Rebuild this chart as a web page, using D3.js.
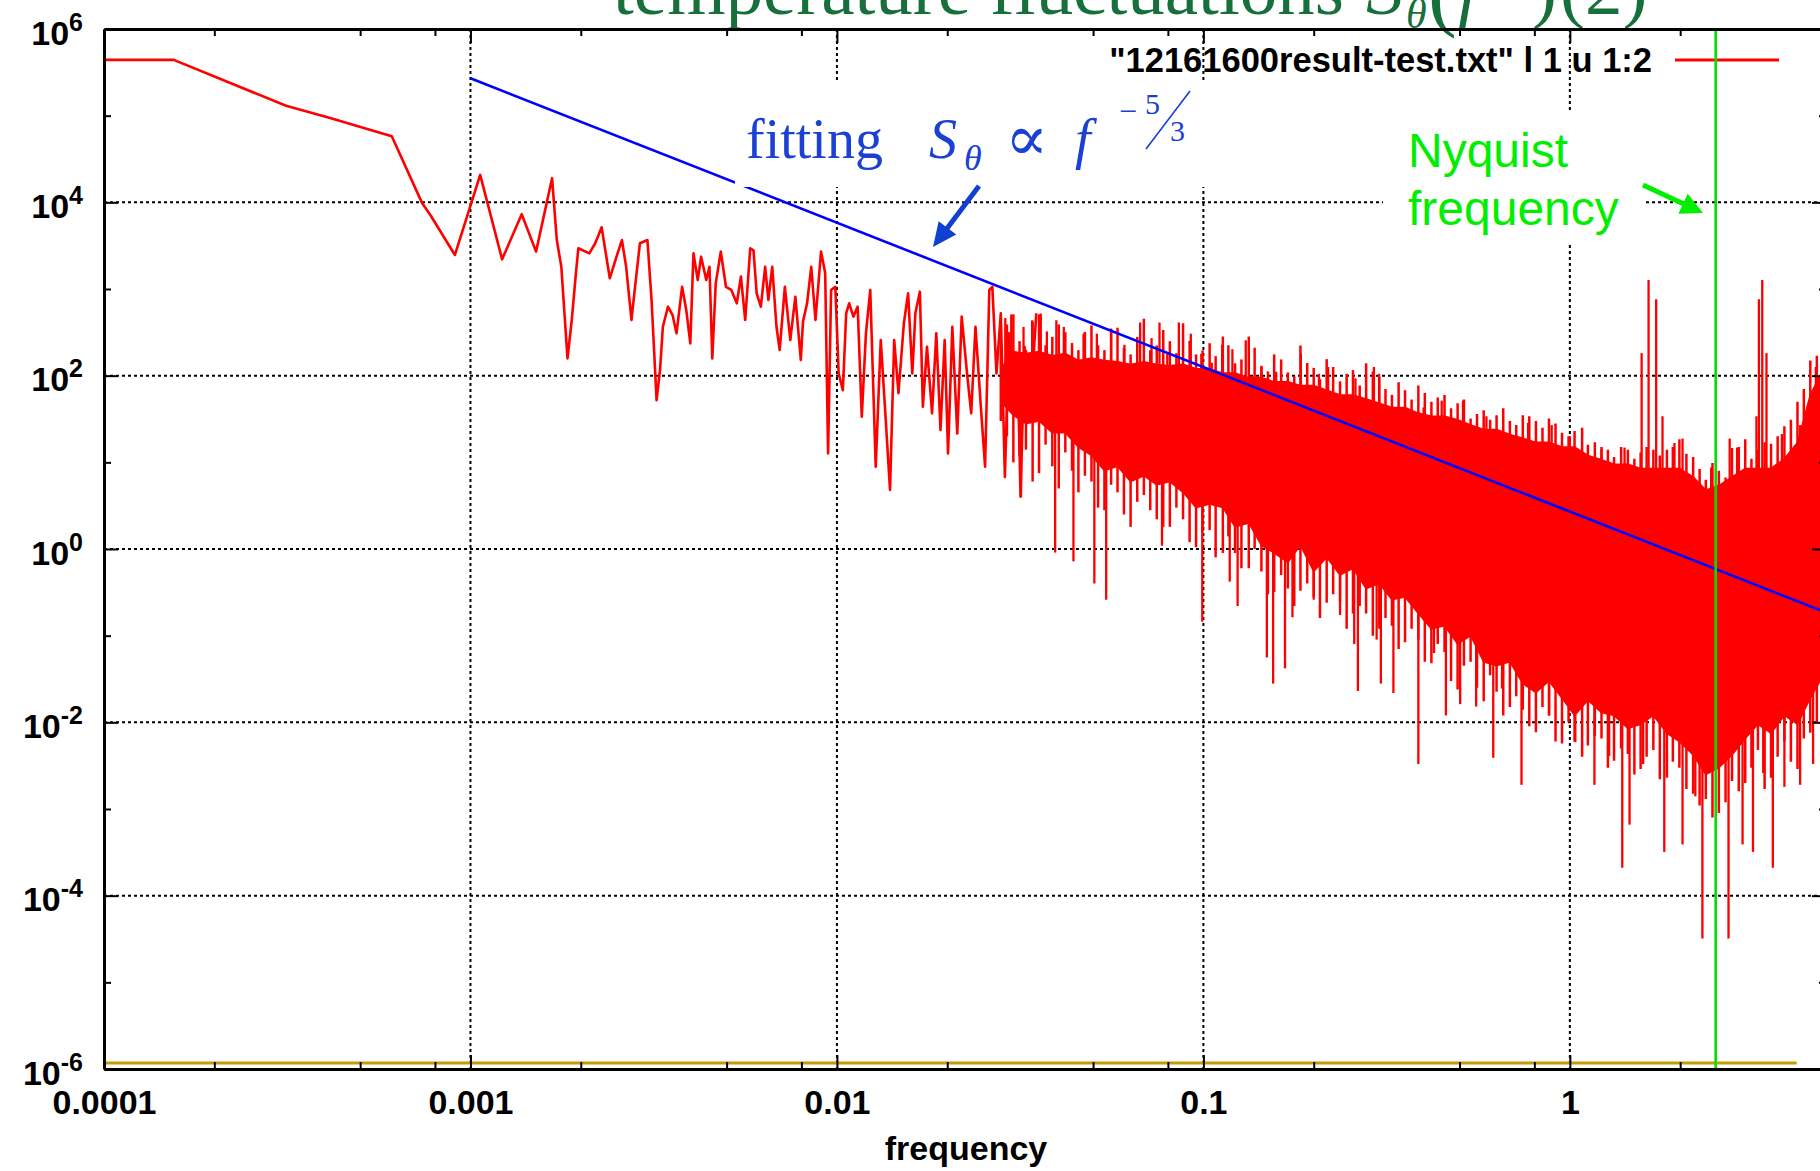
<!DOCTYPE html>
<html><head><meta charset="utf-8">
<script src="https://cdn.jsdelivr.net/npm/d3@7"></script>
<style>
html,body{margin:0;padding:0;background:#fff;}
svg{display:block;}
</style></head>
<body>
<svg id="chart" width="1820" height="1171"></svg>
<script>
// ---------------- DATA ----------------
const xMajorTicks = [0.0001, 0.001, 0.01, 0.1, 1];
const xTickLabels = ["0.0001", "0.001", "0.01", "0.1", "1"];
const xMinorTicks = [2e-4, 5e-4, 8e-4, 2e-3, 5e-3, 8e-3, 0.02, 0.05, 0.08, 0.2, 0.5, 0.8, 2];
const yMajorTicks = [1e-6, 1e-4, 1e-2, 1, 1e2, 1e4, 1e6];
const yTickExponents = ["-6", "-4", "-2", "0", "2", "4", "6"];
const yMinorTicks = [1e-5, 1e-3, 1e-1, 1e1, 1e3, 1e5];

// low-frequency part of the spectrum (individually resolved points)
const sparseFreq = [1.0e-4, 1.55e-4, 3.14e-4, 4.14e-4, 6.1e-4, 7.38e-4, 7.78e-4, 9.07e-4, 1.063e-3, 1.22e-3,
  1.38e-3, 1.51e-3, 1.67e-3, 1.72e-3, 1.77e-3, 1.79e-3, 1.84e-3, 1.89e-3, 1.94e-3, 1.97e-3,
  2.11e-3, 2.19e-3, 2.28e-3, 2.40e-3, 2.52e-3, 2.59e-3, 2.66e-3, 2.75e-3, 2.80e-3, 2.90e-3,
  3.04e-3, 3.12e-3, 3.16e-3, 3.22e-3, 3.29e-3, 3.35e-3, 3.46e-3, 3.56e-3, 3.65e-3, 3.78e-3,
  3.88e-3, 3.98e-3, 4.06e-3, 4.17e-3, 4.26e-3, 4.40e-3, 4.49e-3, 4.57e-3, 4.67e-3, 4.82e-3,
  4.98e-3, 5.15e-3, 5.33e-3, 5.47e-3, 5.62e-3, 5.80e-3, 5.92e-3, 6.04e-3, 6.20e-3, 6.37e-3,
  6.50e-3, 6.66e-3, 6.84e-3, 6.98e-3, 7.21e-3, 7.46e-3, 7.70e-3, 7.97e-3, 8.08e-3, 8.29e-3,
  8.51e-3, 8.74e-3, 9.05e-3, 9.29e-3, 9.46e-3, 9.64e-3, 9.90e-3, 1.011e-2, 1.038e-2, 1.060e-2,
  1.080e-2, 1.109e-2, 1.139e-2, 1.169e-2, 1.20e-2, 1.233e-2, 1.276e-2, 1.317e-2, 1.352e-2, 1.396e-2,
  1.433e-2, 1.472e-2, 1.523e-2, 1.564e-2, 1.606e-2, 1.637e-2, 1.684e-2, 1.716e-2, 1.761e-2, 1.818e-2,
  1.867e-2, 1.917e-2, 1.968e-2, 2.01e-2, 2.065e-2, 2.13e-2, 2.19e-2, 2.265e-2, 2.325e-2, 2.388e-2,
  2.47e-2, 2.537e-2, 2.605e-2, 2.655e-2, 2.725e-2, 2.80e-2, 2.873e-2, 2.95e-2, 3.03e-2, 3.11e-2,
  3.17e-2, 3.25e-2, 3.37e-2, 3.50e-2];
const sparseVal = [4.4e5, 4.4e5, 1.3e5, 9.4e4, 5.8e4, 9.8e3, 7.1e3, 2.47e3, 2.07e4, 2.2e3,
  7.3e3, 2.7e3, 1.9e4, 3.7e3, 1.8e3, 890, 158, 439, 1.52e3, 2.95e3,
  2.58e3, 3.37e3, 5.15e3, 1.33e3, 2.58e3, 3.67e3, 1.8e3, 439, 890, 3.37e3,
  3.67e3, 747, 258, 52, 116, 367, 625, 500, 308, 1.06e3,
  573, 236, 2.58e3, 1.27e3, 2.36e3, 1.27e3, 1.8e3, 158, 1.16e3, 2.7e3,
  1.06e3, 975, 684, 1.39e3, 439, 2.95e3, 2.8e3, 890, 625, 1.8e3,
  747, 1.8e3, 367, 198, 1.06e3, 258, 815, 152, 420, 684,
  1.8e3, 439, 2.7e3, 1.52e3, 12.7, 975, 1.06e3, 106, 68, 525,
  684, 480, 625, 33.7, 308, 975, 8.9, 258, 43.9, 4.8,
  258, 62.7, 402, 890, 106, 525, 931, 43.9, 216, 36.8,
  308, 23.6, 258, 12.7, 367, 21.6, 480, 106, 36.8, 367,
  43.9, 8.9, 975, 1.06e3, 106, 525, 6.8, 308, 43.9, 152,
  4.0, 216, 43.9, 525];

// high-frequency part: solid core of the dense red region
const bandFreq = [0.028, 0.0303, 0.0328, 0.0356, 0.0387, 0.042, 0.0456, 0.0495, 0.0537, 0.0583,
  0.0633, 0.0688, 0.0746, 0.081, 0.088, 0.0955, 0.104, 0.113, 0.122, 0.133,
  0.144, 0.156, 0.17, 0.184, 0.2, 0.217, 0.236, 0.256, 0.278, 0.302,
  0.327, 0.355, 0.386, 0.419, 0.455, 0.494, 0.536, 0.582, 0.631, 0.686,
  0.744, 0.808, 0.877, 0.952, 1.03, 1.12, 1.22, 1.32, 1.44, 1.56,
  1.69, 1.84, 1.99, 2.17, 2.35, 2.55, 2.77, 3.01, 3.26, 3.54,
  3.85, 4.18, 4.53, 4.92, 5.0];
const coreHigh = [120, 190, 180, 190, 170, 180, 150, 160, 150, 145,
  135, 145, 135, 130, 135, 120, 120, 107, 107, 95,
  95, 85, 85, 77, 77, 68, 60, 60, 54, 48,
  43, 43, 37, 34, 34, 31, 27, 24, 24, 21,
  19, 17, 17, 15, 15, 12, 10.7, 9.5, 9.5, 8.5,
  8.5, 8.5, 8.5, 6.8, 4.8, 5.4, 6.8, 8.5, 8.5, 8.5,
  11, 17, 60, 120, 150];
const coreLow = [50, 35, 28, 30, 22, 22, 15, 12, 8, 9,
  6, 7, 5.5, 6, 4.5, 3, 3.3, 3, 1.8, 2,
  1.1, 0.9, 0.7, 1.1, 0.55, 0.8, 0.5, 0.6, 0.35, 0.4,
  0.26, 0.28, 0.18, 0.12, 0.13, 0.08, 0.1, 0.05, 0.045, 0.05,
  0.028, 0.022, 0.03, 0.019, 0.012, 0.018, 0.013, 0.012, 0.0085, 0.0095,
  0.012, 0.0075, 0.006, 0.0042, 0.0025, 0.003, 0.0042, 0.0065, 0.0095, 0.0075,
  0.012, 0.0095, 0.019, 0.035, 0.04];
// extreme values (max / min) reached around each band frequency
const bandHigh = [280, 510, 197, 510, 280, 318, 197, 380, 197, 358,
  176, 454, 223, 250, 403, 176, 237, 283, 139, 283,
  130, 176, 109, 223, 123, 155, 86, 116, 139, 97,
  60, 68, 77, 50, 60, 48, 32, 40, 35, 30,
  35, 30, 32, 22, 23, 16, 15, 11.5, 14, 13,
  14, 14, 18.5, 11.5, 6.3, 8, 14.6, 18.5, 14, 16.4,
  26, 50, 150, 220, 250];
const bandLow = [30, 10, 14, 7.5, 9, 13, 4.5, 6, 2.8, 4.5,
  1.8, 4.2, 2.2, 1.8, 2.2, 1.05, 1.65, 0.9, 0.9, 0.6,
  0.55, 0.32, 0.35, 0.33, 0.28, 0.24, 0.25, 0.18, 0.18, 0.12,
  0.13, 0.084, 0.09, 0.048, 0.065, 0.024, 0.05, 0.0175, 0.0225, 0.015,
  0.014, 0.0077, 0.012, 0.0057, 0.006, 0.0054, 0.0065, 0.0036, 0.0043, 0.0029,
  0.0048, 0.0023, 0.003, 0.0015, 0.0013, 0.0009, 0.0021, 0.002, 0.0048, 0.0023,
  0.006, 0.0029, 0.0076, 0.012, 0.02];
// in-between frequencies with their extreme values
const midFreq = [0.0291, 0.0315, 0.0342, 0.0371, 0.0403, 0.0438, 0.0475, 0.0516, 0.056, 0.0607,
  0.066, 0.0716, 0.0777, 0.0844, 0.0917, 0.0995, 0.108, 0.117, 0.127, 0.138,
  0.150, 0.163, 0.177, 0.192, 0.208, 0.226, 0.246, 0.267, 0.290, 0.314,
  0.341, 0.370, 0.402, 0.436, 0.474, 0.514, 0.558, 0.606, 0.658, 0.714,
  0.775, 0.842, 0.914, 0.992, 1.08, 1.17, 1.27, 1.38, 1.50, 1.62,
  1.76, 1.91, 2.08, 2.26, 2.45, 2.66, 2.89, 3.13, 3.40, 3.69,
  4.01, 4.35, 4.72];
const midHigh = [390, 250, 420, 224, 390, 238, 320, 224, 350, 210,
  280, 196, 336, 182, 252, 196, 168, 224, 154, 210,
  112, 154, 98, 140, 91, 126, 105, 77, 112, 70,
  84, 53, 63, 56, 42, 53, 36, 31, 42, 27,
  34, 25, 28, 20, 25, 17, 14, 15, 11, 15,
  12, 15, 12.6, 8.4, 9.8, 6.7, 15, 11, 17, 20,
  31, 70, 170];
const midLow = [20, 12, 6, 16, 5, 8, 7, 3, 5.5, 2.5,
  3.5, 2.8, 1.8, 3, 1.2, 1.6, 0.8, 1.4, 0.6, 1.0,
  0.3, 0.5, 0.22, 0.4, 0.16, 0.3, 0.12, 0.22, 0.1, 0.16,
  0.07, 0.12, 0.05, 0.08, 0.03, 0.045, 0.025, 0.035, 0.012, 0.02,
  0.009, 0.015, 0.006, 0.01, 0.004, 0.007, 0.003, 0.005, 0.0025, 0.004,
  0.0022, 0.0035, 0.0017, 0.0011, 0.0008, 0.0012, 0.0016, 0.003, 0.0017, 0.004,
  0.0035, 0.0065, 0.01];

// isolated spikes sticking out of the band (tip values)
const spikeUpFreq = [0.0288, 0.0299, 0.0323, 0.0341, 0.036, 0.0374, 0.0397, 0.0416, 0.0471, 0.0512,
  0.056, 0.0609, 0.0672, 0.0722, 0.0759, 0.0797, 0.0857, 0.0924, 0.0987, 0.1054,
  0.1125, 0.120, 0.1305, 0.144, 0.158, 0.1845, 0.2067, 0.219, 0.26, 0.292,
  0.3016, 0.35, 0.399, 0.447, 0.511, 0.592, 0.769, 0.892, 1.0, 1.22,
  1.41, 1.57, 1.64, 1.72, 1.79, 1.93, 2.03, 2.43, 2.73, 2.86,
  3.23, 3.28, 3.35, 3.44, 3.79, 4.25, 4.69];
const spikeUpVal = [462, 508, 365, 436, 521, 324, 436, 365, 305, 305,
  324, 227, 411, 271, 411, 179, 411, 305, 179, 141,
  227, 202, 256, 126, 111, 179, 105, 126, 93, 126,
  105, 43, 43, 51.5, 51.5, 34, 28.5, 26.9, 20, 14,
  14.8, 182, 1270, 760, 34, 16.7, 18.8, 8.7, 18.8, 14.8,
  34, 760, 1270, 182, 21.2, 26.9, 126];
const spikeDownFreq = [0.0318, 0.0394, 0.0442, 0.0504, 0.0543, 0.0771, 0.0993, 0.118, 0.124, 0.149,
  0.155, 0.167, 0.175, 0.2, 0.236, 0.258, 0.264, 0.297, 0.305, 0.330,
  0.386, 0.426, 0.459, 0.502, 0.555, 0.618, 0.653, 0.738, 0.878, 1.035,
  1.167, 1.28, 1.39, 1.455, 1.585, 1.81, 2.03, 2.2, 2.30, 2.71,
  2.96, 3.16, 3.37, 3.58, 3.85, 4.25, 4.61];
const spikeDownVal = [4.0, 0.91, 0.72, 0.40, 0.26, 1.09, 0.145, 0.42, 0.22, 0.056,
  0.028, 0.042, 0.163, 0.26, 0.173, 0.080, 0.023, 0.090, 0.028, 0.0218,
  0.0033, 0.063, 0.012, 0.0162, 0.0152, 0.0039, 0.0245, 0.0019, 0.012, 0.0059,
  0.0019, 0.0041, 2.1e-4, 6.6e-4, 0.0033, 3.2e-4, 3.9e-4, 0.0014, 3.2e-5, 3.2e-5,
  3.9e-4, 3.2e-4, 0.0026, 2.1e-4, 0.0018, 0.0019, 0.0033];

// -5/3 fitting line (end points), lower "floor" curve, Nyquist frequency
const fitFreq = [0.001, 5];
const fitVal = [2.7e5, 0.185];
const floorFreq = [0.0001, 4.16];
const floorVal = [1.17e-6, 1.17e-6];
const nyquistFreq = [2.5];
const legendLabel = '"12161600result-test.txt" l 1 u 1:2';

// ---------------- CHART ----------------
const FONT_SANS = "'Liberation Sans', Arial, Helvetica, sans-serif";
const FONT_SERIF = "'Liberation Serif', 'Times New Roman', 'DejaVu Serif', serif";
const M = {left: 104, right: 1826, top: 29, bottom: 1069};
const svg = d3.select("#chart");
const x = d3.scaleLog().domain([1e-4, 5]).range([M.left, M.right]);
const y = d3.scaleLog().domain([1e-6, 1e6]).range([M.bottom, M.top]);

// title (mostly cut off at the top)
const TITLE_COL = "#17703c";
const tg = svg.append("g").attr("fill", TITLE_COL).attr("font-family", FONT_SERIF);
tg.append("text").attr("x", 613).attr("y", 14).attr("font-size", 75).text("temperature fluctuations");
tg.append("text").attr("x", 1366).attr("y", 14).attr("font-size", 75).attr("font-style", "italic").text("S");
tg.append("text").attr("x", 1406).attr("y", 28).attr("font-size", 42).attr("font-style", "italic").text("θ");
tg.append("text").attr("x", 1428).attr("y", 20).attr("font-size", 86).text("(");
tg.append("text").attr("x", 1458).attr("y", 14).attr("font-size", 75).attr("font-style", "italic").text("f");
tg.append("text").attr("x", 1532).attr("y", 14).attr("font-size", 75).text(")");
tg.append("text").attr("x", 1560).attr("y", 14).attr("font-size", 75).text("(2)");

// grid
const grid = svg.append("g").attr("stroke", "#000").attr("stroke-width", 2).attr("stroke-dasharray", "3,3");
grid.selectAll("line.gx").data(xMajorTicks.slice(1)).join("line").attr("class", "gx")
  .attr("x1", d => x(d)).attr("x2", d => x(d)).attr("y1", M.top).attr("y2", M.bottom);
grid.selectAll("line.gy").data(yMajorTicks.slice(1, -1)).join("line").attr("class", "gy")
  .attr("y1", d => y(d)).attr("y2", d => y(d)).attr("x1", M.left).attr("x2", M.right);

// red spectrum
const RED = "#ff0000";
const core = bandFreq.map((f, i) => ({f, hi: coreHigh[i], lo: coreLow[i]}));
svg.append("path").datum(core)
  .attr("d", d3.area().x(d => x(d.f)).y0(d => y(d.lo)).y1(d => y(d.hi)))
  .attr("fill", RED).attr("stroke", RED).attr("stroke-width", 1.5);

const ranges = bandFreq.map((f, i) => ({f, hi: bandHigh[i], lo: bandLow[i]}))
  .concat(midFreq.map((f, i) => ({f, hi: midHigh[i], lo: midLow[i]})));
svg.append("g").attr("stroke", RED).attr("stroke-width", 2.5)
  .selectAll("line").data(ranges).join("line")
  .attr("x1", d => x(d.f)).attr("x2", d => x(d.f))
  .attr("y1", d => y(d.hi)).attr("y2", d => y(d.lo));

function coreMid(f) {
  const i = Math.max(1, Math.min(bandFreq.length - 1, d3.bisectLeft(bandFreq, f)));
  const f0 = bandFreq[i - 1], f1 = bandFreq[i];
  const t = Math.max(0, Math.min(1, (Math.log(f) - Math.log(f0)) / (Math.log(f1) - Math.log(f0))));
  const m0 = Math.log(Math.sqrt(coreHigh[i - 1] * coreLow[i - 1]));
  const m1 = Math.log(Math.sqrt(coreHigh[i] * coreLow[i]));
  return Math.exp(m0 * (1 - t) + m1 * t);
}
const spikes = spikeUpFreq.map((f, i) => ({f, v: spikeUpVal[i]}))
  .concat(spikeDownFreq.map((f, i) => ({f, v: spikeDownVal[i]})));
svg.append("g").attr("stroke", RED).attr("stroke-width", 2.3)
  .selectAll("line").data(spikes).join("line")
  .attr("x1", d => x(d.f)).attr("x2", d => x(d.f))
  .attr("y1", d => y(d.v)).attr("y2", d => y(coreMid(d.f)));

const sparse = sparseFreq.map((f, i) => ({f, v: sparseVal[i]}));
svg.append("path").datum(sparse)
  .attr("d", d3.line().x(d => x(d.f)).y(d => y(d.v)))
  .attr("fill", "none").attr("stroke", RED).attr("stroke-width", 2.6).attr("stroke-linejoin", "round");

// fitting line
const fit = fitFreq.map((f, i) => ({f, v: fitVal[i]}));
svg.append("path").datum(fit)
  .attr("d", d3.line().x(d => x(d.f)).y(d => y(d.v)))
  .attr("fill", "none").attr("stroke", "#0000ff").attr("stroke-width", 2.6);

// white text boxes of the overlaid annotations
svg.append("rect").attr("x", 735).attr("y", 80).attr("width", 480).attr("height", 107).attr("fill", "#fff");
svg.append("rect").attr("x", 1383).attr("y", 110).attr("width", 262).attr("height", 135).attr("fill", "#fff");

// annotations
function arrow(g, x1, y1, x2, y2, color, w, hl, hw) {
  const dx = x2 - x1, dy = y2 - y1, len = Math.hypot(dx, dy), ux = dx / len, uy = dy / len;
  const bx = x2 - ux * hl, by = y2 - uy * hl, px = -uy, py = ux;
  g.append("line").attr("x1", x1).attr("y1", y1).attr("x2", bx + ux * 2).attr("y2", by + uy * 2)
    .attr("stroke", color).attr("stroke-width", w);
  g.append("path").attr("d", `M${x2},${y2}L${bx + px * hw},${by + py * hw}L${bx - px * hw},${by - py * hw}Z`)
    .attr("fill", color);
}
const BLUE_T = "#1a40d4";
const ann = svg.append("g").attr("font-family", FONT_SERIF).attr("fill", BLUE_T);
ann.append("text").attr("x", 746).attr("y", 158).attr("font-size", 56).text("fitting");
ann.append("text").attr("x", 929).attr("y", 158).attr("font-size", 56).attr("font-style", "italic").text("S");
ann.append("text").attr("x", 964).attr("y", 170).attr("font-size", 36).attr("font-style", "italic").text("θ");
ann.append("text").attr("x", 1005).attr("y", 160).attr("font-size", 64).text("∝");
ann.append("text").attr("x", 1075).attr("y", 158).attr("font-size", 56).attr("font-style", "italic").text("f");
ann.append("text").attr("x", 1119).attr("y", 122).attr("font-size", 32).text("−");
ann.append("text").attr("x", 1145).attr("y", 114).attr("font-size", 30).text("5");
ann.append("text").attr("x", 1170).attr("y", 141).attr("font-size", 30).text("3");
ann.append("line").attr("x1", 1146).attr("y1", 149).attr("x2", 1190).attr("y2", 91)
  .attr("stroke", BLUE_T).attr("stroke-width", 1.6);
arrow(ann, 979, 186, 933, 247, "#1040d0", 5, 24, 11);

const GREEN = "#00ee00";
const nyq = svg.append("g").attr("font-family", FONT_SANS).attr("fill", GREEN).attr("font-size", 48);
nyq.append("text").attr("x", 1408).attr("y", 167).text("Nyquist");
nyq.append("text").attr("x", 1408).attr("y", 225).text("frequency");
arrow(nyq, 1643, 185, 1703, 213, GREEN, 5, 22, 11);

// floor curve
const floorData = floorFreq.map((f, i) => ({f, v: floorVal[i]}));
svg.append("path").datum(floorData)
  .attr("d", d3.line().x(d => x(d.f)).y(d => y(d.v)))
  .attr("fill", "none").attr("stroke", "#c99a00").attr("stroke-width", 3);

// legend
svg.append("text").attr("x", 1652).attr("y", 72).attr("text-anchor", "end")
  .attr("font-family", FONT_SANS).attr("font-weight", "bold").attr("font-size", 34.5).attr("fill", "#000")
  .text(legendLabel);
svg.append("line").attr("x1", 1675).attr("x2", 1779).attr("y1", 60).attr("y2", 60)
  .attr("stroke", RED).attr("stroke-width", 3);

// Nyquist line
svg.selectAll("line.nyq").data(nyquistFreq).join("line").attr("class", "nyq")
  .attr("x1", d => x(d)).attr("x2", d => x(d)).attr("y1", M.top).attr("y2", M.bottom)
  .attr("stroke", "#00e000").attr("stroke-width", 2.6);

// axes
function styleAxis(g) {
  g.select(".domain").attr("stroke", "#000").attr("stroke-width", 3);
  g.selectAll(".tick line").attr("stroke", "#000").attr("stroke-width", 2);
}
function minor(g) {
  g.select(".domain").remove();
  g.selectAll(".tick line").attr("stroke", "#000").attr("stroke-width", 2);
}
const gx = svg.append("g").attr("transform", `translate(0,${M.bottom})`)
  .call(d3.axisBottom(x).tickValues(xMajorTicks).tickFormat((d, i) => xTickLabels[i])
    .tickSizeInner(-14).tickSizeOuter(0).tickPadding(21));
styleAxis(gx);
gx.selectAll(".tick text").attr("font-size", 34).attr("font-weight", "bold")
  .attr("font-family", FONT_SANS).attr("fill", "#000");
svg.append("g").attr("transform", `translate(0,${M.bottom})`)
  .call(d3.axisBottom(x).tickValues(xMinorTicks).tickFormat("").tickSizeInner(-7).tickSizeOuter(0)).call(minor);

const gt = svg.append("g").attr("transform", `translate(0,${M.top})`)
  .call(d3.axisTop(x).tickValues(xMajorTicks).tickFormat("").tickSizeInner(-14).tickSizeOuter(0));
styleAxis(gt);
svg.append("g").attr("transform", `translate(0,${M.top})`)
  .call(d3.axisTop(x).tickValues(xMinorTicks).tickFormat("").tickSizeInner(-7).tickSizeOuter(0)).call(minor);

const gy = svg.append("g").attr("transform", `translate(${M.left},0)`)
  .call(d3.axisLeft(y).tickValues(yMajorTicks).tickFormat("").tickSizeInner(-14).tickSizeOuter(0));
styleAxis(gy);
gy.selectAll(".tick text").remove();
gy.selectAll(".tick").append("text")
  .attr("x", -21).attr("y", 15).attr("text-anchor", "end")
  .attr("font-family", FONT_SANS).attr("font-weight", "bold").attr("font-size", 34).attr("fill", "#000")
  .each(function(d, i) {
    const t = d3.select(this);
    t.append("tspan").text("10");
    t.append("tspan").attr("dy", -14).attr("font-size", 25).text(yTickExponents[i]);
  });
svg.append("g").attr("transform", `translate(${M.left},0)`)
  .call(d3.axisLeft(y).tickValues(yMinorTicks).tickFormat("").tickSizeInner(-7).tickSizeOuter(0)).call(minor);

const gr = svg.append("g").attr("transform", `translate(${M.right},0)`)
  .call(d3.axisRight(y).tickValues(yMajorTicks).tickFormat("").tickSizeInner(-14).tickSizeOuter(0));
styleAxis(gr);
svg.append("g").attr("transform", `translate(${M.right},0)`)
  .call(d3.axisRight(y).tickValues(yMinorTicks).tickFormat("").tickSizeInner(-7).tickSizeOuter(0)).call(minor);

// axis title
svg.append("text").attr("x", 966).attr("y", 1160).attr("text-anchor", "middle")
  .attr("font-family", FONT_SANS).attr("font-weight", "bold").attr("font-size", 34).attr("fill", "#000")
  .text("frequency");
</script>
</body></html>
